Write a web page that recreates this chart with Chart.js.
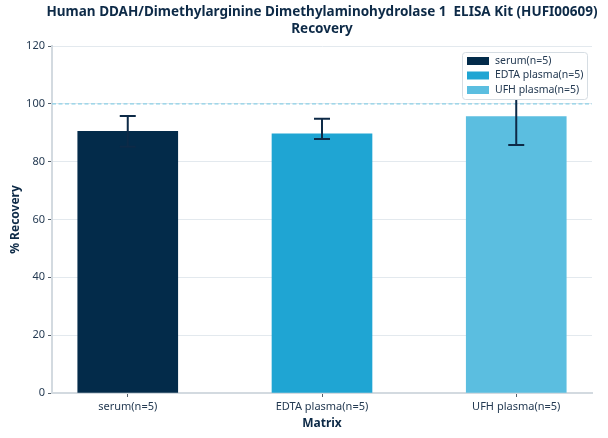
<!DOCTYPE html>
<html>
    <head>
        <meta charset="utf-8">
        <title>DDAH1 Recovery</title>
        <script src="https://cdn.jsdelivr.net/npm/chart.js"></script>
        <style>
            html, body { margin: 0; padding: 0; background: #fff; }
            .wrap { width: 608px; height: 438px; }
        </style>
    </head>
    <body>
        <div class="wrap">
            <canvas id="recoveryChart" width="608" height="438"></canvas>
        </div>
        <script>
            const titleLines = ['Human DDAH/Dimethylarginine Dimethylaminohydrolase 1  ELISA Kit (HUFI00609)', 'Recovery'];
            const categories = ['serum(n=5)', 'EDTA plasma(n=5)', 'UFH plasma(n=5)'];
            const recovery = [90.5, 89.6, 95.6];
            const errLow = [85.2, 87.8, 85.8];
            const errHigh = [95.8, 94.8, 105.4];
            const barColors = ['#032b4a', '#1fa5d3', '#5bbee0'];
            const yTicks = [0, 20, 40, 60, 80, 100, 120];
            const refLine = 100;

            const ink = '#0d2a47';
            const tickInk = '#243a52';
            const fontFamily = '"Noto Sans", "Open Sans", sans-serif';

            // title centred over the plot area, like the original
            const titlePlugin = {
                id: 'plotTitle',
                afterDraw(chart) {
                    const ctx = chart.ctx;
                    const cx = (chart.chartArea.left + chart.chartArea.right) / 2;
                    ctx.save();
                    ctx.fillStyle = ink;
                    ctx.font = 'bold 13.5px ' + fontFamily;
                    ctx.textAlign = 'center';
                    ctx.textBaseline = 'middle';
                    ctx.fillText(titleLines[0], cx, 12);
                    ctx.fillText(titleLines[1], cx, 29);
                    ctx.restore();
                }
            };

            const refLinePlugin = {
                id: 'refLine',
                beforeDatasetsDraw(chart) {
                    const {ctx, chartArea, scales} = chart;
                    const y = scales.y.getPixelForValue(refLine);
                    ctx.save();
                    ctx.strokeStyle = '#8ccfe6';
                    ctx.lineWidth = 1.2;
                    ctx.setLineDash([4, 2.5]);
                    ctx.beginPath();
                    ctx.moveTo(chartArea.left, y);
                    ctx.lineTo(chartArea.right, y);
                    ctx.stroke();
                    ctx.restore();
                }
            };

            const errorBarPlugin = {
                id: 'errorBars',
                afterDatasetsDraw(chart) {
                    const {ctx, scales} = chart;
                    ctx.save();
                    ctx.strokeStyle = ink;
                    ctx.lineWidth = 2;
                    categories.forEach((c, i) => {
                        const x = scales.x.getPixelForValue(i);
                        const yLo = scales.y.getPixelForValue(errLow[i]);
                        const yHi = scales.y.getPixelForValue(errHigh[i]);
                        ctx.beginPath();
                        ctx.moveTo(x, yLo);
                        ctx.lineTo(x, yHi);
                        ctx.moveTo(x - 8, yLo);
                        ctx.lineTo(x + 8, yLo);
                        ctx.moveTo(x - 8, yHi);
                        ctx.lineTo(x + 8, yHi);
                        ctx.stroke();
                    });
                    ctx.restore();
                }
            };

            // legend box sits inside the plot, top right
            const legendPlugin = {
                id: 'boxLegend',
                afterDatasetsDraw(chart) {
                    const ctx = chart.ctx;
                    const right = chart.chartArea.right - 5;
                    const top = chart.chartArea.top + 6;
                    const w = 125, h = 47;
                    const left = right - w;
                    ctx.save();
                    ctx.fillStyle = '#ffffff';
                    ctx.strokeStyle = '#d6dde3';
                    ctx.lineWidth = 1;
                    ctx.beginPath();
                    ctx.roundRect(left + 0.5, top + 0.5, w, h, 3);
                    ctx.fill();
                    ctx.stroke();
                    ctx.font = '10.5px ' + fontFamily;
                    ctx.textBaseline = 'middle';
                    chart.data.datasets.forEach((ds, i) => {
                        const cy = top + 9 + i * 14.5;
                        ctx.fillStyle = ds.backgroundColor;
                        ctx.fillRect(left + 5, cy - 4, 22, 8);
                        ctx.fillStyle = tickInk;
                        ctx.fillText(ds.label, left + 33, cy);
                    });
                    ctx.restore();
                }
            };

            const datasets = categories.map((c, i) => ({
                label: c,
                data: [{x: i, y: recovery[i]}],
                backgroundColor: barColors[i],
                borderWidth: 0,
                barThickness: 100,
                grouped: false
            }));

            const ctx = document.getElementById('recoveryChart').getContext('2d');
            new Chart(ctx, {
                type: 'bar',
                data: { datasets },
                options: {
                    responsive: false,
                    animation: false,
                    layout: { padding: { left: 0, right: 16, top: 46, bottom: 0 } },
                    plugins: {
                        legend: { display: false },
                        title: { display: false },
                        tooltip: { enabled: false }
                    },
                    scales: {
                        x: {
                            type: 'linear',
                            min: -0.39,
                            max: 2.39,
                            offset: false,
                            afterBuildTicks: (scale) => {
                                scale.ticks = categories.map((c, i) => ({value: i}));
                            },
                            afterFit: (scale) => { scale.height = 45; },
                            ticks: {
                                callback: (v) => categories[v],
                                color: tickInk,
                                font: { family: fontFamily, size: 11 },
                                padding: 3,
                                maxRotation: 0
                            },
                            grid: {
                                offset: false,
                                drawOnChartArea: false,
                                tickLength: 4,
                                tickColor: '#55606b',
                                tickWidth: 1
                            },
                            border: { color: '#d3dae0', width: 2 },
                            title: {
                                display: true,
                                text: 'Matrix',
                                color: ink,
                                font: { family: fontFamily, size: 12, weight: 'bold' },
                                padding: { top: 0, bottom: 7 }
                            }
                        },
                        y: {
                            min: 0,
                            max: 120,
                            afterBuildTicks: (scale) => {
                                scale.ticks = yTicks.map(v => ({value: v}));
                            },
                            afterFit: (scale) => { scale.width = 52; },
                            ticks: {
                                color: tickInk,
                                font: { family: fontFamily, size: 11 },
                                padding: 3
                            },
                            grid: {
                                color: '#e3e9ee',
                                lineWidth: 1,
                                tickLength: 4,
                                tickColor: '#55606b'
                            },
                            border: { color: '#d3dae0', width: 2 },
                            title: {
                                display: true,
                                text: '% Recovery',
                                color: ink,
                                font: { family: fontFamily, size: 12, weight: 'bold' },
                                padding: { top: 8, bottom: 0 }
                            }
                        }
                    }
                },
                plugins: [refLinePlugin, errorBarPlugin, legendPlugin, titlePlugin]
            });
        </script>
    </body>
</html>
